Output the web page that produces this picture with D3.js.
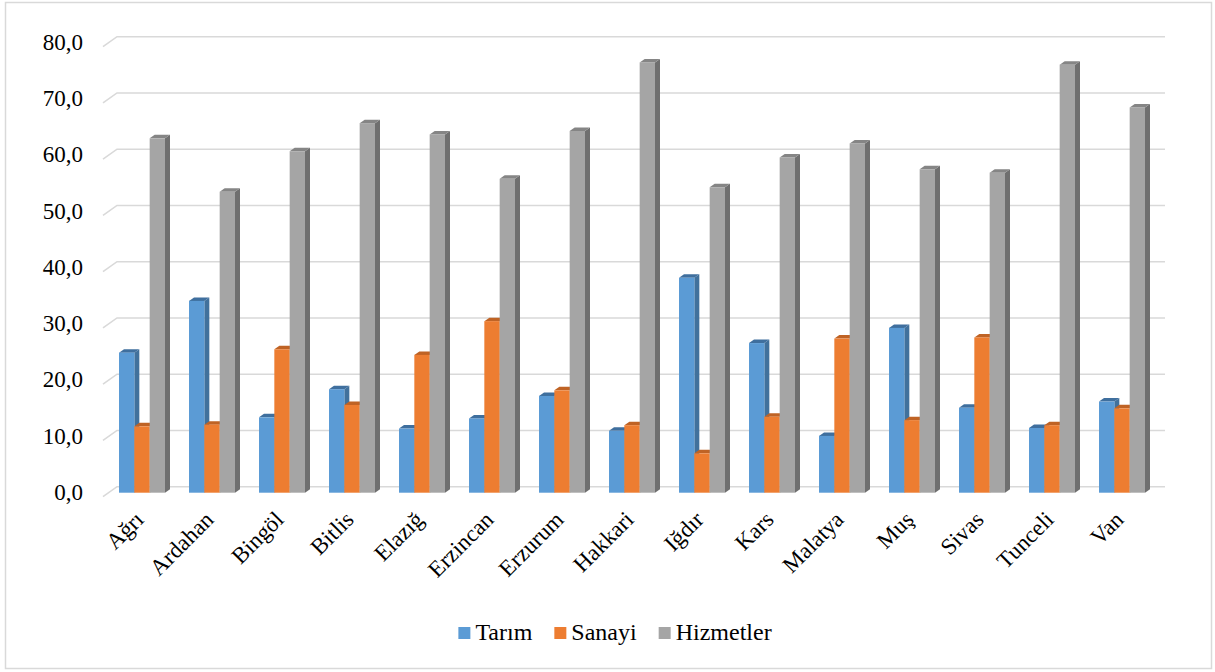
<!DOCTYPE html>
<html>
<head>
<meta charset="utf-8">
<script src="https://cdn.jsdelivr.net/npm/d3@7"></script>
<style>
  body { margin: 0; background: #fff; }
</style>
</head>
<body>
<svg id="chart" width="1215" height="672"></svg>
<script>
// provinces and sector shares (%)
const provinces = ["Ağrı", "Ardahan", "Bingöl", "Bitlis", "Elazığ", "Erzincan", "Erzurum", "Hakkari",
  "Iğdır", "Kars", "Malatya", "Muş", "Sivas", "Tunceli", "Van"];
const tarim     = [24.9, 34.1, 13.4, 18.4, 11.4, 13.2, 17.2, 11.0, 38.2, 26.6, 10.1, 29.3, 15.1, 11.5, 16.2];
const sanayi    = [11.8, 12.1, 25.5, 15.6, 24.5, 30.5, 18.2, 12.0,  7.0, 13.5, 27.4, 12.9, 27.6, 12.0, 15.0];
const hizmetler = [63.0, 53.5, 60.7, 65.7, 63.7, 55.8, 64.3, 76.5, 54.3, 59.6, 62.1, 57.5, 56.9, 76.1, 68.5];
const seriesNames = ["Tarım", "Sanayi", "Hizmetler"];
const yTicks = [0, 10, 20, 30, 40, 50, 60, 70, 80];

const series = [tarim, sanayi, hizmetler];
const frontCol = ["#5B9BD5", "#ED7D31", "#A5A5A5"];
const sideCol  = ["#41719C", "#AE5A21", "#6F6F6F"];
const topCol   = ["#3F6F9E", "#BF6325", "#858585"];
const FONT = "Liberation Serif";

const svg = d3.select("#chart");

// outer frame
svg.append("rect").attr("x", 5.5).attr("y", 2.5).attr("width", 1206).attr("height", 666)
  .attr("fill", "none").attr("stroke", "#D9D9D9").attr("stroke-width", 1.5);

// back wall scale and front (bar) scale
const yBack = d3.scaleLinear().domain([0, 80]).range([486.7, 36.7]);
const yFront = d3.scaleLinear().domain([0, 80]).range([492.7, 42.7]);
const wallX0 = 117, wallX1 = 1165;
const x = d3.scaleBand().domain(provinces).range([107, 1157]).paddingInner(0).paddingOuter(0);
const groupPad = 12;
const barW = (x.bandwidth() - 2 * groupPad) / 3;
const dep = { dx: 5, dy: -3.5 };

// gridlines with left diagonal
const grid = svg.append("g");
yTicks.forEach(t => {
  const y = yBack(t);
  grid.append("path")
    .attr("d", `M${wallX0 - 14},${y + 10}L${wallX0},${y}L${wallX1},${y}`)
    .attr("fill", "none").attr("stroke", "#D9D9D9").attr("stroke-width", 1.6);
});

// y labels
svg.append("g").selectAll("text").data(yTicks).join("text")
  .attr("x", 83).attr("y", d => yBack(d) + 8)
  .attr("text-anchor", "end").attr("dominant-baseline", "middle")
  .style("font-family", FONT).style("font-size", "23px").style("fill", "#000")
  .text(d => d.toFixed(1).replace(".", ","));

// bars
const bars = svg.append("g");
provinces.forEach((p, i) => {
  series.forEach((s, k) => {
    const x0 = x(p) + groupPad + k * barW;
    const x1 = x0 + barW;
    const y0 = yFront(0), y1 = yFront(s[i]);
    const g = bars.append("g");
    g.append("path")
      .attr("d", `M${x1},${y0}L${x1 + dep.dx},${y0 + dep.dy}L${x1 + dep.dx},${y1 + dep.dy}L${x1},${y1}Z`)
      .attr("fill", sideCol[k]);
    g.append("path")
      .attr("d", `M${x0},${y1}L${x0 + dep.dx},${y1 + dep.dy}L${x1 + dep.dx},${y1 + dep.dy}L${x1},${y1}Z`)
      .attr("fill", topCol[k]);
    g.append("rect").attr("x", x0).attr("y", y1).attr("width", barW).attr("height", y0 - y1)
      .attr("fill", frontCol[k]);
  });
});

// x labels
svg.append("g").selectAll("text").data(provinces).join("text")
  .attr("text-anchor", "end")
  .attr("transform", d => `translate(${x(d) + x.bandwidth() / 2 + 3},${521}) rotate(-45)`)
  .style("font-family", FONT).style("font-size", "23px").style("fill", "#000")
  .text(d => d);

// legend
const legend = svg.append("g");
let lx = 0;
seriesNames.forEach((n, k) => {
  const g = legend.append("g").attr("transform", `translate(${lx},0)`);
  g.append("rect").attr("x", 0).attr("y", -6).attr("width", 12).attr("height", 12).attr("fill", frontCol[k]);
  const t = g.append("text").attr("x", 17).attr("y", 1).attr("dominant-baseline", "middle")
    .style("font-family", FONT).style("font-size", "24px").style("fill", "#000").text(n);
  lx += 17 + t.node().getComputedTextLength() + 22;
});
const lw = lx - 22;
legend.attr("transform", `translate(${615 - lw / 2},633)`);
</script>
</body>
</html>
